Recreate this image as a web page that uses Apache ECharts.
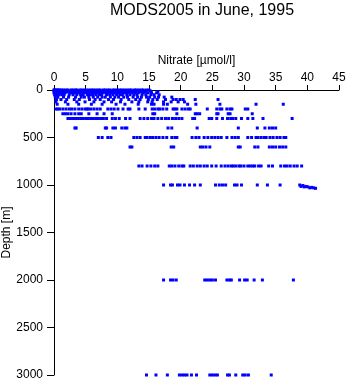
<!DOCTYPE html>
<html>
<head>
<meta charset="utf-8">
<script src="https://cdn.jsdelivr.net/npm/echarts@6/dist/echarts.min.js"></script>
<style>
  html, body { margin: 0; padding: 0; background: #fff; }
  #chart { width: 348px; height: 384px; }
</style>
</head>
<body>
<div id="chart"></div>
<script>
// Nitrate readings (µmol/l) grouped by sampling depth (m)
const n0    = [0.0, 0.1, 0.3, 0.5, 0.7, 0.9, 1.2, 1.5, 1.9, 2.2, 2.7, 3.0, 3.4, 3.6, 4.1, 4.4, 4.8, 5.1, 5.5, 5.9, 6.2, 6.6, 7.0, 7.3, 7.8, 8.1, 8.5, 8.8, 9.3, 9.6, 10.0, 10.4, 10.7, 11.1, 11.5, 11.9, 12.2, 12.7, 13.0, 13.4, 13.8, 14.1, 14.6, 15.0];
const n10   = [0.0, 0.2, 0.4, 0.8, 1.1, 1.4, 2.0, 2.3, 2.9, 3.2, 3.7, 4.0, 4.5, 4.9, 5.2, 5.6, 6.1, 6.5, 6.9, 7.2, 7.6, 8.0, 8.4, 8.9, 9.2, 9.7, 10.1, 10.3, 10.8, 11.3, 11.7, 12.1, 12.5, 12.9, 13.3, 13.7, 14.2, 14.5, 15.2];
const n20   = [0.1, 0.3, 0.6, 1.0, 1.3, 1.8, 2.1, 2.5, 3.0, 3.3, 3.8, 4.3, 4.7, 5.0, 5.4, 5.8, 6.3, 6.7, 7.0, 7.4, 7.9, 8.2, 8.7, 9.1, 9.5, 9.9, 10.2, 10.6, 11.0, 11.4, 11.8, 12.3, 12.6, 13.2, 13.6, 14.0, 14.4, 15.3, 16.4];
const n30   = [0.0, 0.2, 0.5, 0.9, 1.4, 1.7, 2.6, 3.1, 3.5, 4.0, 4.6, 5.1, 5.4, 6.0, 6.4, 6.8, 7.3, 7.7, 8.2, 8.6, 9.0, 9.5, 9.8, 10.3, 10.9, 11.3, 11.6, 12.2, 12.8, 13.3, 14.1, 14.8, 15.4, 16.2];
const n50   = [0.1, 0.4, 0.7, 1.2, 1.6, 2.4, 3.0, 3.6, 4.2, 4.6, 5.3, 5.7, 6.1, 6.6, 7.1, 7.5, 8.3, 8.8, 9.3, 9.9, 10.4, 10.8, 11.5, 12.0, 12.6, 13.1, 13.9, 14.5, 15.3, 15.8, 16.6];
const n75   = [0.2, 0.6, 1.5, 2.3, 3.4, 4.3, 4.8, 5.5, 6.2, 6.9, 7.6, 8.1, 8.9, 9.6, 10.2, 11.0, 11.6, 12.5, 13.2, 13.8, 14.6, 15.1, 15.9, 16.5, 17.4, 18.6];
const n100  = [0.4, 1.1, 2.0, 3.2, 4.0, 5.6, 6.5, 7.3, 8.6, 9.4, 10.6, 11.8, 12.9, 13.6, 14.9, 15.6, 16.3, 17.6, 18.8, 19.3, 19.9, 20.4, 22.3, 25.9];
const n125  = [0.3, 1.8, 3.6, 4.9, 6.3, 7.9, 9.1, 10.5, 12.3, 13.4, 14.8, 15.5, 17.3, 18.5, 19.6, 20.6];
const n150  = [0.5, 2.2, 3.9, 5.9, 7.6, 9.8, 11.2, 13.3, 15.4, 15.8, 17.3, 17.9, 21.1, 22.4, 26.2, 31.9, 36.2];
const n200  = [0.3, 0.6, 0.9, 1.4, 1.9, 2.4, 2.8, 3.3, 3.9, 4.4, 4.9, 5.2, 5.4, 5.8, 6.3, 6.8, 7.3, 8.5, 9.0, 9.5, 10.1, 10.9, 11.7, 12.0, 13.4, 14.4, 15.5, 15.9, 16.4, 16.7, 17.2, 17.8, 18.8, 19.1, 19.4, 20.2, 20.7, 21.2, 21.5, 24.2, 25.7, 26.2, 26.5, 27.3, 27.8, 28.1, 30.2, 30.6];
const n250  = [1.4, 1.8, 2.2, 2.7, 3.3, 3.9, 4.3, 5.5, 6.8, 7.9, 9.2, 15.6, 15.9, 19.4, 22.3, 22.6, 23.0, 25.7, 25.9, 27.5, 27.8, 31.3];
const n300  = [2.2, 2.6, 3.0, 3.4, 3.8, 4.2, 4.6, 5.0, 5.4, 5.8, 6.2, 6.6, 7.0, 7.4, 7.8, 8.3, 9.2, 9.7, 10.3, 11.3, 12.0, 13.6, 14.2, 14.8, 15.4, 15.8, 16.4, 17.0, 17.6, 18.1, 18.7, 19.2, 19.7, 20.2, 21.9, 22.2, 24.5, 24.9, 25.7, 26.6, 27.4, 27.9, 28.2, 28.7, 29.6, 30.6, 31.4, 33.0, 37.6];
const n400  = [3.3, 3.5, 8.1, 8.3, 9.3, 9.7, 10.7, 11.2, 11.5, 18.0, 18.6, 22.6, 29.1, 32.1, 33.3, 34.0, 34.5, 35.0];
const n500  = [7.0, 7.6, 8.5, 9.0, 12.6, 13.1, 13.6, 14.4, 14.7, 15.2, 15.6, 16.1, 16.6, 17.2, 17.8, 18.6, 19.1, 19.4, 21.8, 22.4, 22.9, 23.7, 24.3, 24.9, 25.4, 25.9, 26.4, 27.3, 28.1, 28.6, 29.1, 30.6, 31.2, 31.9, 32.2, 32.7, 33.2, 33.5, 34.1, 34.6, 35.2, 35.7, 36.3, 36.6];
const n600  = [12.0, 12.3, 18.5, 18.9, 23.1, 23.5, 24.0, 24.6, 29.1, 29.4, 31.7, 32.2, 34.0, 34.5, 35.0, 35.6, 36.1, 36.6];
const n800  = [13.4, 13.9, 14.7, 15.3, 15.9, 16.4, 18.2, 18.6, 19.1, 19.7, 20.2, 20.5, 21.5, 22.0, 22.6, 23.1, 23.7, 24.2, 24.9, 25.6, 26.4, 27.0, 27.5, 28.0, 28.3, 28.7, 29.2, 29.5, 30.0, 30.6, 31.0, 31.4, 31.7, 32.3, 32.7, 33.9, 34.5, 35.8, 36.4, 36.8, 37.3, 37.9, 38.4, 39.1];
const n1000 = [17.3, 18.4, 18.7, 19.5, 19.9, 20.6, 21.4, 22.2, 23.1, 25.5, 26.1, 26.6, 27.1, 28.5, 28.9, 29.6, 32.1, 33.7, 35.7];
const n2000 = [17.3, 18.4, 18.8, 19.3, 23.8, 24.2, 24.6, 25.0, 25.5, 27.3, 27.7, 28.0, 29.3, 30.1, 30.5, 31.6, 32.9, 37.8];
const n3000 = [14.6, 16.1, 17.9, 19.8, 20.2, 20.6, 21.0, 21.7, 22.5, 24.6, 25.0, 25.4, 25.8, 27.4, 27.7, 28.7, 29.8, 30.2, 30.7, 34.3];

// Near-bottom profile samples around 1000 m (nitrate, depth pairs)
const deepNitrate = [38.8, 39.0, 39.3, 39.5, 39.8, 40.1, 40.4, 40.7, 41.0, 41.3];
const deepDepth   = [1000, 1015, 1005, 1020, 1015, 1020, 1030, 1025, 1030, 1035];

const depthLevels = [0, 10, 20, 30, 50, 75, 100, 125, 150, 200, 250, 300, 400, 500, 600, 800, 1000, 2000, 3000];
const nitrateByLevel = [n0, n10, n20, n30, n50, n75, n100, n125, n150, n200, n250, n300, n400, n500, n600, n800, n1000, n2000, n3000];

const xTicks = [0, 5, 10, 15, 20, 25, 30, 35, 40, 45];
const yTicks = [0, 500, 1000, 1500, 2000, 2500, 3000];

const points = [];
depthLevels.forEach((d, i) => {
  nitrateByLevel[i].forEach(v => points.push([v, d]));
});
deepNitrate.forEach((v, i) => points.push([v, deepDepth[i]]));

const font = 'Liberation Sans, Arial, Helvetica, sans-serif';
const chart = echarts.init(document.getElementById('chart'), null, { renderer: 'canvas' });

chart.setOption({
  animation: false,
  backgroundColor: '#ffffff',
  title: {
    text: 'MODS2005 in June, 1995',
    left: 197,
    textAlign: 'center',
    top: -2,
    textStyle: { fontFamily: font, fontSize: 16, fontWeight: 'normal', color: '#000' }
  },
  grid: { left: 54, right: 9, top: 90, bottom: 9, containLabel: false, outerBoundsMode: 'none' },
  xAxis: {
    type: 'value',
    position: 'top',
    min: xTicks[0],
    max: xTicks[xTicks.length - 1],
    interval: 5,
    name: 'Nitrate [µmol/l]',
    nameLocation: 'middle',
    nameGap: 23,
    nameMoveOverlap: false,
    nameTextStyle: { fontFamily: font, fontSize: 12, color: '#000' },
    axisLine: { show: true, lineStyle: { color: '#000', width: 1 } },
    axisTick: { show: true, length: 5, lineStyle: { color: '#000' } },
    axisLabel: { fontFamily: font, fontSize: 12, color: '#000', margin: 6, formatter: v => String(v) },
    splitLine: { show: false }
  },
  yAxis: {
    type: 'value',
    inverse: true,
    min: yTicks[0],
    max: yTicks[yTicks.length - 1],
    interval: 500,
    name: 'Depth [m]',
    nameLocation: 'middle',
    nameGap: 41,
    nameMoveOverlap: false,
    nameRotate: 90,
    nameTextStyle: { fontFamily: font, fontSize: 12, color: '#000' },
    axisLine: { show: true, lineStyle: { color: '#000', width: 1 } },
    axisTick: { show: true, length: 7, lineStyle: { color: '#000' } },
    axisLabel: { fontFamily: font, fontSize: 12, color: '#000', margin: 11, formatter: v => String(v) },
    splitLine: { show: false }
  },
  series: [{
    type: 'scatter',
    data: points,
    symbol: 'rect',
    symbolSize: 3,
    itemStyle: { color: '#0000ff', opacity: 1 },
    silent: true
  }]
});
</script>
</body>
</html>
